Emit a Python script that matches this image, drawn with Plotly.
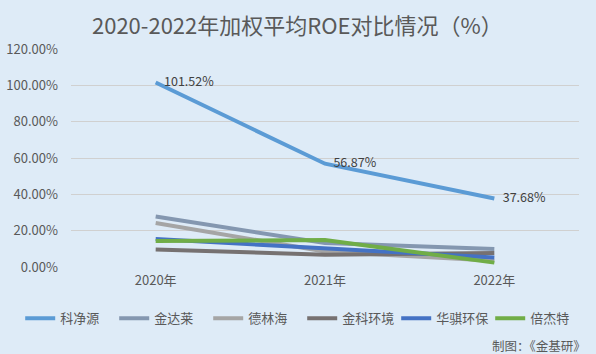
import plotly.graph_objects as go

years = ["2020年", "2021年", "2022年"]
companies = ["科净源", "金达莱", "德林海", "金科环境", "华骐环保", "倍杰特"]
kejingyuan = [1.0152, 0.5687, 0.3768]
jindalai = [0.278, 0.132, 0.099]
delinhai = [0.242, 0.085, 0.035]
jinke = [0.097, 0.068, 0.077]
huaqi = [0.154, 0.104, 0.052]
beijiete = [0.143, 0.148, 0.024]
series = [kejingyuan, jindalai, delinhai, jinke, huaqi, beijiete]
colors = ["#5B9BD5", "#8497B0", "#A5A5A5", "#767171", "#4472C4", "#70AD47"]
label_text = ["101.52%", "56.87%", "37.68%"]

font_family = "Noto Sans CJK SC, Noto Sans, sans-serif"

fig = go.Figure()
for name, vals, col in zip(companies, series, colors):
    tr = dict(x=years, y=vals, name=name, mode="lines",
              line=dict(color=col, width=4))
    if name == "科净源":
        tr.update(mode="lines+text", text=["   " + t for t in label_text],
                  textposition="middle right",
                  textfont=dict(size=12.5, color="#404040", family=font_family))
    fig.add_trace(go.Scatter(**tr))

fig.update_layout(
    width=596, height=354,
    paper_bgcolor="#DEEBF7", plot_bgcolor="#DEEBF7",
    margin=dict(l=71, r=17, t=49, b=87, autoexpand=False),
    font=dict(family=font_family, color="#595959", size=13),
    title=dict(text="2020-2022年加权平均ROE对比情况（%）", x=0.499, xanchor="center",
               y=0.925, yanchor="middle",
               font=dict(size=22, color="#595959", family=font_family)),
    xaxis=dict(type="category", range=[-0.5, 2.5], showgrid=False, showline=False,
               ticks="", automargin=False, ticklabelstandoff=4,
               tickfont=dict(size=13, color="#595959")),
    yaxis=dict(range=[0, 1.2], dtick=0.2, tickformat=".2%", showgrid=True,
               gridcolor="#D0D0D0", gridwidth=1, zeroline=False, showline=False,
               automargin=False, ticklabelstandoff=12,
               tickfont=dict(size=13, color="#595959")),
    legend=dict(orientation="h", xref="paper", yref="paper",
                x=-0.1, xanchor="left", y=-0.235, yanchor="middle",
                font=dict(size=13, color="#595959"), itemwidth=30,
                entrywidth=49, entrywidthmode="pixels",
                bgcolor="rgba(0,0,0,0)", tracegroupgap=0),
    showlegend=True,
)
fig.add_annotation(text="制图：《金基研》", xref="paper", yref="paper",
                   x=1.018, y=-0.36, xanchor="right", yanchor="middle", showarrow=False,
                   font=dict(size=12.5, color="#595959", family=font_family))

fig.write_html("out.html")
